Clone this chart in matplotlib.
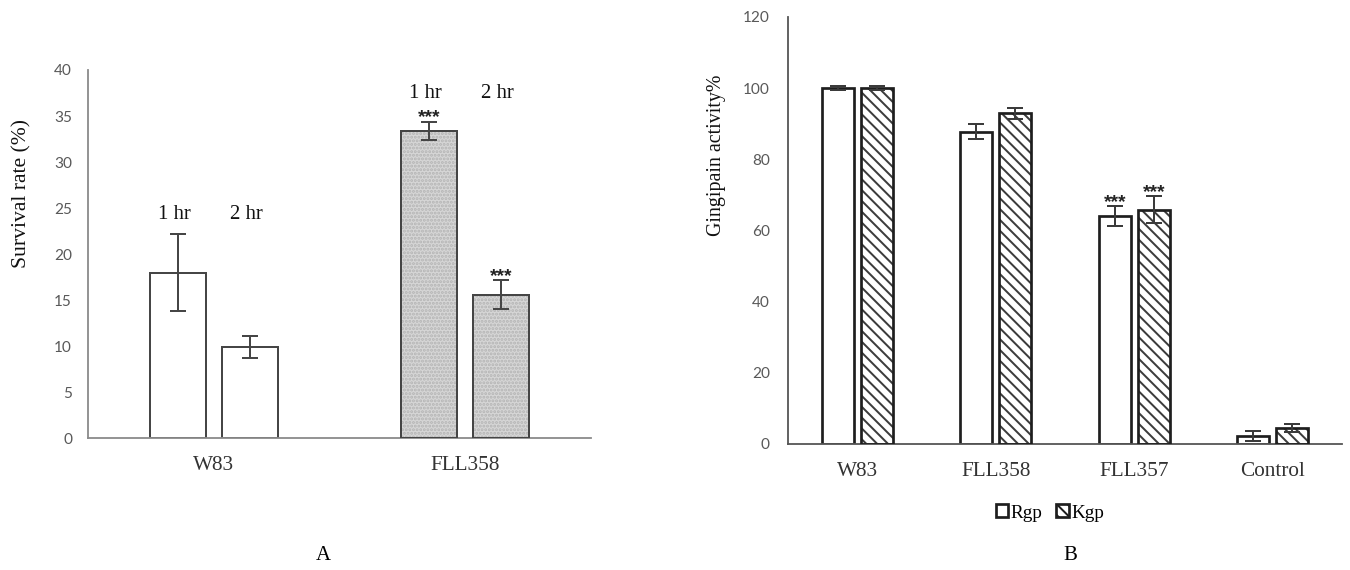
import matplotlib
matplotlib.use('Agg')
import matplotlib.pyplot as plt
import numpy as np
from matplotlib.patches import Patch

# panel A: survival rate
strains_a = ['W83', 'FLL358']
surv_1hr = [18.0, 33.4]
surv_1hr_err = [4.2, 1.0]
surv_2hr = [9.95, 15.6]
surv_2hr_err = [1.2, 1.6]
stars_1hr = ['', '***']
stars_2hr = ['', '***']
hr_labels = ['1 hr', '2 hr']

# panel B: gingipain activity
strains_b = ['W83', 'FLL358', 'FLL357', 'Control']
rgp = [100.0, 87.7, 63.9, 2.1]
rgp_err = [0.5, 2.1, 2.8, 1.4]
kgp = [100.0, 92.9, 65.8, 4.4]
kgp_err = [0.5, 1.6, 3.7, 1.1]
stars_rgp = ['', '', '***', '']
stars_kgp = ['', '', '***', '']

DPI = 130
serif = 'Liberation Serif'
tick_font = 'Lato'
tick_col = '#595959'

plt.rcParams['hatch.linewidth'] = 1.1

fig = plt.figure(figsize=(1350 / DPI, 570 / DPI), dpi=DPI)
axA = fig.add_axes([0.0654, 0.2311, 0.3724, 0.6461])
axB = fig.add_axes([0.5837, 0.2219, 0.4104, 0.7483])


def style_axis(ax, spine_col):
    for s in ['top', 'right']:
        ax.spines[s].set_visible(False)
    for s in ['left', 'bottom']:
        ax.spines[s].set_color(spine_col)
        ax.spines[s].set_linewidth(1.0)
    ax.tick_params(axis='both', length=0)
    for lab in ax.get_yticklabels():
        lab.set_fontfamily(tick_font)
        lab.set_fontsize(8.5)
        lab.set_color(tick_col)
    for lab in ax.get_xticklabels():
        lab.set_fontfamily(serif)
        lab.set_fontsize(11.8)
        lab.set_color('#333333')


def add_stars(ax, xs, tops, marks, off):
    for x, t, m in zip(xs, tops, marks):
        if m:
            ax.annotate(m, (x, t), xytext=(0, off), textcoords='offset points',
                        ha='center', va='baseline', fontsize=10.5, fontweight='bold',
                        family='Liberation Sans', color='#222222')


# ---- panel A ----
xa = np.arange(len(strains_a))
w = 0.223
off = 0.143
edge_a = '#454545'
fills = ['white', '#d6d6d6']
for i in range(len(strains_a)):
    for dx, vals in [(-off, surv_1hr), (off, surv_2hr)]:
        axA.bar(xa[i] + dx, vals[i], w, color=fills[i], edgecolor=edge_a, linewidth=1.1, zorder=2)
        if i == 1:
            axA.bar(xa[i] + dx, vals[i], w * 0.97, fill=False, hatch='......',
                    edgecolor='#b4b4b4', linewidth=0, zorder=2)
            axA.bar(xa[i] + dx, vals[i], w, fill=False, edgecolor=edge_a, linewidth=1.1, zorder=3)

axA.errorbar(xa - off, surv_1hr, yerr=surv_1hr_err, fmt='none', ecolor=edge_a,
             elinewidth=1.1, capsize=4.4, capthick=1.1, zorder=4)
axA.errorbar(xa + off, surv_2hr, yerr=surv_2hr_err, fmt='none', ecolor=edge_a,
             elinewidth=1.1, capsize=4.4, capthick=1.1, zorder=4)

add_stars(axA, xa - off, np.add(surv_1hr, surv_1hr_err), stars_1hr, -0.5)
add_stars(axA, xa + off, np.add(surv_2hr, surv_2hr_err), stars_2hr, -0.5)

hr_y = [24.3, 37.5]
for i in range(len(strains_a)):
    for dx, lab in zip([-off, off], hr_labels):
        axA.text(xa[i] + dx - 0.015, hr_y[i], lab, ha='center', va='center',
                 family=serif, fontsize=11.5, color='#111111')

axA.set_xlim(-0.5, 1.5)
axA.set_ylim(0, 40)
axA.set_yticks(np.arange(0, 41, 5))
axA.set_xticks(xa)
axA.set_xticklabels(strains_a)
axA.tick_params(axis='y', pad=9)
axA.tick_params(axis='x', pad=10)
axA.set_ylabel('Survival rate (%)', family=serif, fontsize=12, color='#111111')
axA.yaxis.set_label_coords(-0.112, 0.665)
style_axis(axA, '#8a8a8a')

# ---- panel B ----
xb = np.arange(len(strains_b))
wb = 0.23
ob = 0.14
edge_b = '#1e1e1e'
axB.bar(xb - ob, rgp, wb, color='white', edgecolor=edge_b, linewidth=1.5, zorder=2)
axB.bar(xb + ob, kgp, wb, color='white', edgecolor='#3c3c3c', linewidth=0, hatch='\\\\\\\\', zorder=2)
axB.bar(xb + ob, kgp, wb, fill=False, edgecolor=edge_b, linewidth=1.5, zorder=3)
axB.errorbar(xb - ob, rgp, yerr=rgp_err, fmt='none', ecolor='#3a3a3a',
             elinewidth=1.1, capsize=4.4, capthick=1.1, zorder=4)
axB.errorbar(xb + ob, kgp, yerr=kgp_err, fmt='none', ecolor='#3a3a3a',
             elinewidth=1.1, capsize=4.4, capthick=1.1, zorder=4)
add_stars(axB, xb - ob, np.add(rgp, rgp_err), stars_rgp, -0.5)
add_stars(axB, xb + ob, np.add(kgp, kgp_err), stars_kgp, -0.5)

axB.set_xlim(-0.5, 3.5)
axB.set_ylim(0, 120)
axB.set_yticks(np.arange(0, 121, 20))
axB.set_xticks(xb)
axB.set_xticklabels(strains_b)
axB.tick_params(axis='y', pad=10)
axB.tick_params(axis='x', pad=10)
axB.set_ylabel('Gingipain activity%', family=serif, fontsize=11, color='#111111')
axB.yaxis.set_label_coords(-0.112, 0.675)
style_axis(axB, '#555555')

handles = [Patch(facecolor='white', edgecolor=edge_b, linewidth=1.5, label='Rgp'),
           Patch(facecolor='white', edgecolor=edge_b, linewidth=1.5, hatch='\\\\\\\\', label='Kgp')]
fig.legend(handles=handles, loc='center', bbox_to_anchor=(1050 / 1350, 1 - 513 / 570),
           ncol=2, frameon=False, handlelength=0.65, handleheight=0.65,
           handletextpad=0.15, columnspacing=0.7,
           prop={'family': serif, 'size': 10.6})

fig.text(323 / 1350, 1 - 556 / 570, 'A', ha='center', va='center', family=serif, fontsize=11.5)
fig.text(1070 / 1350, 1 - 556 / 570, 'B', ha='center', va='center', family=serif, fontsize=11.5)

fig.savefig('out.png', dpi=DPI, facecolor='white')
